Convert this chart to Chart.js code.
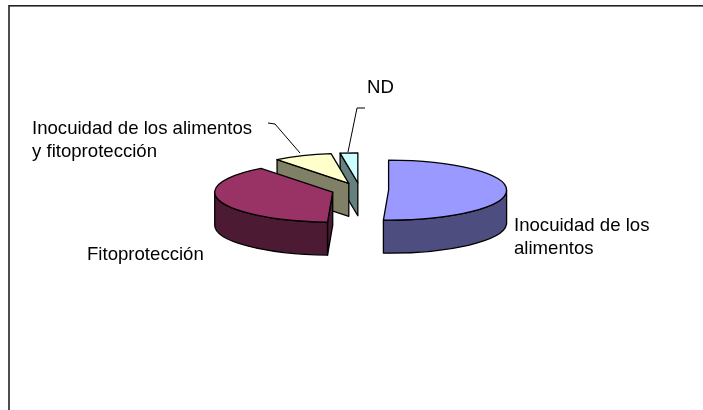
<!DOCTYPE html>
<html>
<head>
<meta charset="utf-8">
<style>html,body{margin:0;padding:0;background:#fff;overflow:hidden}canvas{display:block}</style>
<script src="https://cdn.jsdelivr.net/npm/chart.js@4"></script>
</head>
<body>
<canvas id="c" width="703" height="410"></canvas>
<script>
const categories = ["Inocuidad de los alimentos", "Fitoproteccion", "Inocuidad de los alimentos y fitoproteccion", "ND"];
const values = [50.7, 38.9, 8.0, 2.4];
const topColors = ["#9999FF", "#993366", "#FFFFCC", "#CCFFFF"];
const sideColors = ["#4D4D80", "#4D1A33", "#808066", "#668080"];

const labelLines = [
  { lines: ["Inocuidad de los", "alimentos"], x: 514, y: 226 },
  { lines: ["Fitoprotecci\u00f3n"], x: 87, y: 255 },
  { lines: ["Inocuidad de los alimentos", "y fitoprotecci\u00f3n"], x: 32, y: 129 },
  { lines: ["ND"], x: 367, y: 88 }
];
const leaders = [
  [[268, 123], [275, 124], [300, 153]],
  [[365, 108], [357, 108], [348, 152]]
];

const squash = 0.254, depth = 33, explode = 28.6;

function centerY(chart) { return (chart.chartArea.top + chart.chartArea.bottom) / 2; }

function geom(chart, arc) {
  const p = arc.getProps(["x", "y", "startAngle", "endAngle", "outerRadius"], true);
  const cy = centerY(chart);
  return { s: p.startAngle, e: p.endAngle, R: p.outerRadius, ox: p.x, oy: cy + (p.y - cy) * squash };
}

function face(ctx, g, ang, color) {
  const px = g.ox + Math.cos(ang) * g.R, py = g.oy + Math.sin(ang) * g.R * squash;
  ctx.beginPath();
  ctx.moveTo(g.ox, g.oy);
  ctx.lineTo(px, py);
  ctx.lineTo(px, py + depth);
  ctx.lineTo(g.ox, g.oy + depth);
  ctx.closePath();
  ctx.fillStyle = color; ctx.fill(); ctx.stroke();
}

function wall(ctx, g, color) {
  const a = Math.max(g.s, 0), b = Math.min(g.e, Math.PI);
  if (b <= a) return;
  ctx.beginPath();
  ctx.ellipse(g.ox, g.oy, g.R, g.R * squash, 0, a, b);
  ctx.ellipse(g.ox, g.oy + depth, g.R, g.R * squash, 0, b, a, true);
  ctx.closePath();
  ctx.fillStyle = color; ctx.fill(); ctx.stroke();
}

const pie3d = {
  id: "pie3d",
  afterDatasetsUpdate(chart) {
    chart.getDatasetMeta(0).data.forEach(arc => {
      const mid = (arc.startAngle + arc.endAngle) / 2;
      arc.x += Math.cos(mid) * explode;
      arc.y += Math.sin(mid) * explode;
    });
  },
  beforeDraw(chart) {
    const ctx = chart.ctx;
    ctx.save();
    ctx.fillStyle = "#fff";
    ctx.fillRect(0, 0, chart.width, chart.height);
    ctx.strokeStyle = "#222";
    ctx.lineWidth = 1.6;
    ctx.strokeRect(9, 5.8, 760, 460);
    ctx.restore();
  },
  beforeDatasetsDraw(chart) {
    const ctx = chart.ctx, arcs = chart.getDatasetMeta(0).data;
    ctx.save();
    ctx.strokeStyle = "#000"; ctx.lineWidth = 1.3; ctx.lineJoin = "round";
    [3, 2, 1, 0].forEach(i => {
      const g = geom(chart, arcs[i]);
      if (Math.cos(g.s) < 0) face(ctx, g, g.s, sideColors[i]);
      if (Math.cos(g.e) > 0) face(ctx, g, g.e, sideColors[i]);
      wall(ctx, g, sideColors[i]);
    });
    ctx.restore();
    const cy = centerY(chart);
    ctx.save();
    ctx.translate(0, cy); ctx.scale(1, squash); ctx.translate(0, -cy);
  },
  afterDatasetsDraw(chart) {
    const ctx = chart.ctx, arcs = chart.getDatasetMeta(0).data;
    ctx.restore();
    ctx.save();
    ctx.strokeStyle = "#000"; ctx.lineWidth = 1.3; ctx.lineJoin = "round";
    arcs.forEach(arc => {
      const g = geom(chart, arc);
      ctx.beginPath();
      ctx.moveTo(g.ox, g.oy);
      ctx.ellipse(g.ox, g.oy, g.R, g.R * squash, 0, g.s, g.e);
      ctx.closePath();
      ctx.stroke();
    });
    ctx.lineWidth = 1;
    leaders.forEach(pts => {
      ctx.beginPath();
      pts.forEach((q, j) => j ? ctx.lineTo(q[0], q[1]) : ctx.moveTo(q[0], q[1]));
      ctx.stroke();
    });
    ctx.fillStyle = "#000";
    ctx.font = '18.6px "Liberation Sans", Arial, sans-serif';
    ctx.textBaseline = "middle";
    labelLines.forEach(l => l.lines.forEach((t, j) => ctx.fillText(t, l.x, l.y + j * 23)));
    ctx.restore();
  }
};

new Chart(document.getElementById("c"), {
  type: "pie",
  data: {
    labels: categories,
    datasets: [{
      data: values,
      backgroundColor: topColors,
      borderWidth: 0,
      clip: false
    }]
  },
  options: {
    responsive: false,
    animation: false,
    radius: 118,
    layout: { padding: { left: 17, bottom: 30 } },
    plugins: { legend: { display: false }, tooltip: { enabled: false } }
  },
  plugins: [pie3d]
});
</script>
</body>
</html>
